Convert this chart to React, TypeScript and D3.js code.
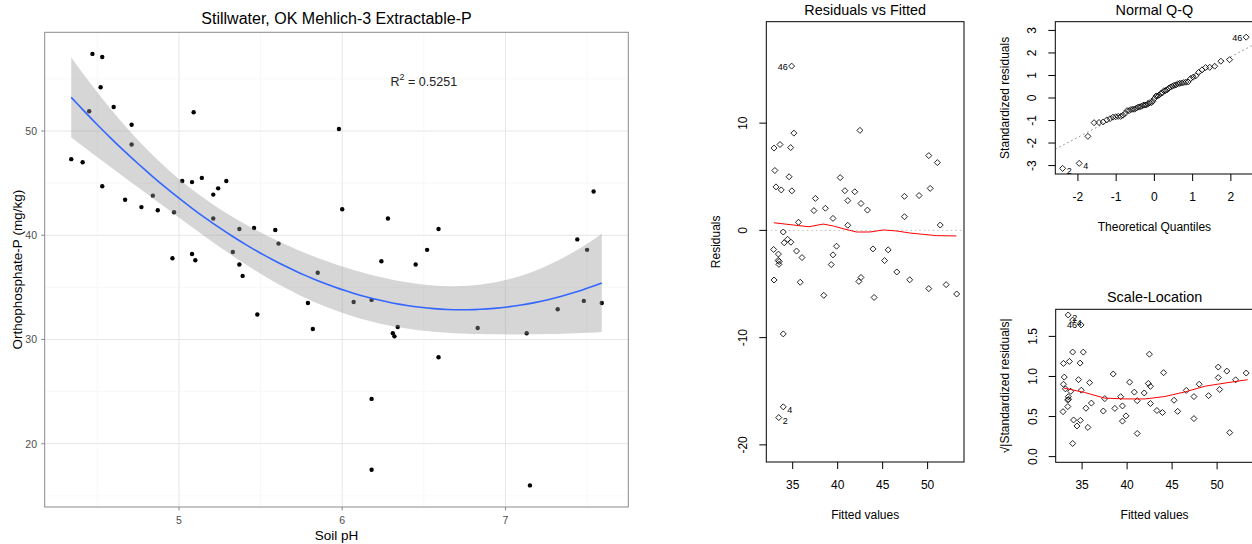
import React from "react";
import * as d3 from "d3";

const soilPH = [4.34, 7.15, 4.41, 6.18, 4.47, 4.53, 4.52, 4.45, 4.53, 4.60, 4.71, 4.71, 4.67, 4.77, 4.84, 4.87, 4.97, 5.02, 5.08, 5.14, 5.09, 5.29, 5.24, 5.21, 5.21, 5.37, 5.46, 5.59, 5.61, 5.33, 5.37, 4.96, 5.08, 5.10, 5.39, 5.48, 5.79, 5.82, 5.85, 6.00, 6.28, 6.59, 6.52, 6.24, 6.45, 5.98, 7.54, 7.44, 7.50, 6.07, 6.18, 6.34, 6.31, 6.32, 6.59, 6.18, 6.83, 7.13, 7.32, 7.48, 7.59];
const orthoP = [47.3, 16.0, 47.0, 17.5, 57.4, 57.1, 54.2, 51.9, 44.7, 52.3, 50.6, 48.7, 43.4, 42.7, 43.8, 42.4, 42.2, 45.2, 45.1, 45.5, 51.8, 45.2, 44.5, 43.9, 41.6, 40.6, 40.7, 40.5, 39.2, 38.4, 37.2, 37.8, 38.2, 37.6, 36.1, 32.4, 33.5, 31.0, 36.4, 42.5, 41.6, 40.6, 38.6, 37.5, 37.2, 50.2, 44.2, 39.6, 38.6, 33.6, 33.8, 31.2, 30.6, 30.3, 28.3, 24.3, 31.1, 30.6, 32.9, 33.7, 33.5];

const mainXTicks = [5, 6, 7];
const mainXMinor = [4.5, 5.5, 6.5, 7.5];
const mainYTicks = [20, 30, 40, 50];
const mainYMinor = [15, 25, 35, 45, 55];
const r2Value = "0.5251";
const r2At = [6.5, 54.7];

const fittedTicks = [35, 40, 45, 50];
const residTicks = [-20, -10, 0, 10];
const qqXTicks = [-2, -1, 0, 1, 2];
const qqYTicks = [-3, -2, -1, 0, 1, 2, 3];
const slYTicks = [0, 0.5, 1, 1.5];
const slYTickLabels = ["0.0", "0.5", "1.0", "1.5"];

// lowess smooths
const rvfSmoothX = [32.9, 35.1, 36.8, 38.4, 39.5, 40.6, 42.1, 43.6, 45.1, 46.6, 48.0, 49.5, 51.0, 53.2];
const rvfSmoothY = [0.71, 0.5, 0.34, 0.59, 0.41, 0.16, -0.15, -0.15, 0.04, -0.06, -0.24, -0.37, -0.49, -0.52];
const slSmoothX = [32.98, 35.3, 37.5, 39.8, 42.0, 44.2, 46.5, 48.7, 51.0, 53.4];
const slSmoothY = [0.855, 0.8, 0.73, 0.72, 0.72, 0.75, 0.81, 0.88, 0.92, 0.96];

const labelLeftIds = [46];
const T_CRIT = 2.0017; // qt(0.975, n - 3)
const FONT = "'Liberation Sans', Arial, Helvetica, sans-serif";

function inv3(m: number[][]) {
  const [[a, b, c], [d, e, f], [g, h, i]] = m;
  const A = e * i - f * h, B = -(d * i - f * g), C = d * h - e * g;
  const D = -(b * i - c * h), E = a * i - c * g, F = -(a * h - b * g);
  const G = b * f - c * e, H = -(a * f - c * d), I = a * e - b * d;
  const det = a * A + b * B + c * C;
  return [
    [A / det, D / det, G / det],
    [B / det, E / det, H / det],
    [C / det, F / det, I / det],
  ];
}

function qnorm(p: number) {
  const a = [-3.969683028665376e1, 2.209460984245205e2, -2.759285104469687e2, 1.38357751867269e2, -3.066479806614716e1, 2.506628277459239];
  const b = [-5.447609879822406e1, 1.615858368580409e2, -1.556989798598866e2, 6.680131188771972e1, -1.328068155288572e1];
  const c = [-7.784894002430293e-3, -3.223964580411365e-1, -2.400758277161838, -2.549732539343734, 4.374664141464968, 2.938163982698783];
  const d = [7.784695709041462e-3, 3.224671290700398e-1, 2.445134137142996, 3.754408661907416];
  const pl = 0.02425;
  if (p < pl) {
    const q = Math.sqrt(-2 * Math.log(p));
    return (((((c[0] * q + c[1]) * q + c[2]) * q + c[3]) * q + c[4]) * q + c[5]) / ((((d[0] * q + d[1]) * q + d[2]) * q + d[3]) * q + 1);
  }
  if (p > 1 - pl) {
    const q = Math.sqrt(-2 * Math.log(1 - p));
    return -(((((c[0] * q + c[1]) * q + c[2]) * q + c[3]) * q + c[4]) * q + c[5]) / ((((d[0] * q + d[1]) * q + d[2]) * q + d[3]) * q + 1);
  }
  const q = p - 0.5, r = q * q;
  return ((((((a[0] * r + a[1]) * r + a[2]) * r + a[3]) * r + a[4]) * r + a[5]) * q) / (((((b[0] * r + b[1]) * r + b[2]) * r + b[3]) * r + b[4]) * r + 1);
}

// ---- quadratic lm fit ----
const n = soilPH.length;
const xBar = d3.mean(soilPH) as number;
const basis = (x: number) => { const c = x - xBar; return [1, c, c * c]; };
const rows = soilPH.map(basis);
const XtX = [0, 1, 2].map((a) => [0, 1, 2].map((b) => d3.sum(rows, (r) => r[a] * r[b])));
const Xty = [0, 1, 2].map((a) => d3.sum(rows, (r, i) => r[a] * orthoP[i]));
const XtXi = inv3(XtX);
const beta = XtXi.map((row) => row[0] * Xty[0] + row[1] * Xty[1] + row[2] * Xty[2]);
const predict = (x: number) => { const v = basis(x); return beta[0] * v[0] + beta[1] * v[1] + beta[2] * v[2]; };
const leverage = (x: number) => {
  const v = basis(x);
  let s = 0;
  for (let a = 0; a < 3; a++) for (let b = 0; b < 3; b++) s += v[a] * XtXi[a][b] * v[b];
  return s;
};
const fitted = soilPH.map(predict);
const resid = orthoP.map((y, i) => y - fitted[i]);
const sigma = Math.sqrt(d3.sum(resid, (r) => r * r) / (n - 3));
const hat = soilPH.map(leverage);
const stdRes = resid.map((r, i) => r / (sigma * Math.sqrt(1 - hat[i])));
const sqrtAbs = stdRes.map((r) => Math.sqrt(Math.abs(r)));
const order = d3.range(n).sort((a, b) => stdRes[a] - stdRes[b]);
const theo: number[] = new Array(n);
order.forEach((idx, k) => { theo[idx] = qnorm((k + 0.5) / n); });
const top3 = (vals: number[]) => d3.range(n).sort((a, b) => Math.abs(vals[b]) - Math.abs(vals[a])).slice(0, 3);

const pad = (lo: number, hi: number, f = 0.04) => [lo - f * (hi - lo), hi + f * (hi - lo)];

// ---- layout ----
const W = 1252, H = 544;
const M = { l: 44.7, r: 628.3, t: 32.3, b: 507 };
const RVF = { l: 766.3, r: 964, t: 21.7, b: 462 };
const QQ = { l: 1055.3, r: 1253.5, t: 21.7, b: 174 };
const SL = { l: 1055.7, r: 1253.5, t: 309.3, b: 462.3 };

const diamond = d3.symbol(d3.symbolSquare, 18)() as string;

type Box = { l: number; r: number; t: number; b: number };

function BasePanel(props: {
  box: Box; x: d3.ScaleLinear<number, number>; y: d3.ScaleLinear<number, number>;
  xTicks: number[]; yTicks: number[]; yTickLabels?: string[];
  title: string; xLabel: string; yLabel: string; children?: React.ReactNode; clipId: string;
}) {
  const { box, x, y, xTicks, yTicks, yTickLabels, title, xLabel, yLabel, children, clipId } = props;
  const cx = (box.l + box.r) / 2, cy = (box.t + box.b) / 2;
  return (
    <g>
      <clipPath id={clipId}><rect x={box.l} y={box.t} width={box.r - box.l} height={box.b - box.t} /></clipPath>
      <g clipPath={`url(#${clipId})`}>{children}</g>
      <rect x={box.l} y={box.t} width={box.r - box.l} height={box.b - box.t} fill="none" stroke="#000" strokeWidth={1} />
      {xTicks.map((t) => (
        <g key={"xt" + t}>
          <line x1={x(t)} x2={x(t)} y1={box.b} y2={box.b + 7} stroke="#000" />
          <text x={x(t)} y={box.b + 23} textAnchor="middle" dominantBaseline="central" fontSize={12}>{t}</text>
        </g>
      ))}
      {yTicks.map((t, i) => (
        <g key={"yt" + t}>
          <line x1={box.l - 7} x2={box.l} y1={y(t)} y2={y(t)} stroke="#000" />
          <text transform={`translate(${box.l - 23},${y(t)}) rotate(-90)`} textAnchor="middle" dominantBaseline="central" fontSize={12}>
            {yTickLabels ? yTickLabels[i] : t}
          </text>
        </g>
      ))}
      <text x={cx} y={box.t - 12} textAnchor="middle" dominantBaseline="central" fontSize={14.4}>{title}</text>
      <text x={cx} y={box.b + 52.5} textAnchor="middle" dominantBaseline="central" fontSize={12}>{xLabel}</text>
      <text transform={`translate(${box.l - 50.5},${cy}) rotate(-90)`} textAnchor="middle" dominantBaseline="central" fontSize={12}>{yLabel}</text>
    </g>
  );
}

function IdLabels(props: { ids: number[]; xs: number[]; ys: number[]; x: d3.ScaleLinear<number, number>; y: d3.ScaleLinear<number, number> }) {
  const { ids, xs, ys, x, y } = props;
  return (
    <g>
      {ids.map((i) => {
        const left = labelLeftIds.includes(i + 1);
        return (
          <text key={"id" + i} x={x(xs[i]) + (left ? -4 : 4)} y={y(ys[i]) + (left ? 0.5 : 3)}
            textAnchor={left ? "end" : "start"} dominantBaseline="central" fontSize={9}>{i + 1}</text>
        );
      })}
    </g>
  );
}

export default function App() {
  // main scatter scales (ggplot 5% expansion)
  const [xlo, xhi] = d3.extent(soilPH) as [number, number];
  const [ylo, yhi] = d3.extent(orthoP) as [number, number];
  const xMain = d3.scaleLinear().domain(pad(xlo, xhi, 0.05)).range([M.l, M.r]);
  const yMain = d3.scaleLinear().domain(pad(ylo, yhi, 0.05)).range([M.b, M.t]);

  const grid = d3.range(80).map((k) => xlo + (k * (xhi - xlo)) / 79);
  const band = grid.map((gx) => {
    const f = predict(gx);
    const se = sigma * Math.sqrt(leverage(gx));
    return { x: gx, f, lo: f - T_CRIT * se, hi: f + T_CRIT * se };
  });
  const area = d3.area<typeof band[0]>().x((d) => xMain(d.x)).y0((d) => yMain(d.lo)).y1((d) => yMain(d.hi));
  const line = d3.line<typeof band[0]>().x((d) => xMain(d.x)).y((d) => yMain(d.f));

  // Residuals vs Fitted
  const [flo, fhi] = d3.extent(fitted) as [number, number];
  const [rlo, rhi] = d3.extent(resid) as [number, number];
  const rext = pad(rlo, rhi, 0.08);
  const xRvf = d3.scaleLinear().domain(pad(flo, fhi)).range([RVF.l, RVF.r]);
  const yRvf = d3.scaleLinear().domain(pad(rext[0], rext[1])).range([RVF.b, RVF.t]);
  const rvfLine = d3.line<number>().x((v) => xRvf(v)).y((_, i) => yRvf(rvfSmoothY[i]));

  // Normal Q-Q
  const [tlo, thi] = d3.extent(theo) as [number, number];
  const [slo, shi] = d3.extent(stdRes) as [number, number];
  const qqHi = shi + 0.075 * (shi - slo);
  const xQQ = d3.scaleLinear().domain(pad(tlo, thi)).range([QQ.l, QQ.r]);
  const yQQ = d3.scaleLinear().domain(pad(slo, qqHi)).range([QQ.b, QQ.t]);
  const q1 = d3.quantile(stdRes, 0.25) as number, q3 = d3.quantile(stdRes, 0.75) as number;
  const z1 = qnorm(0.25), z3 = qnorm(0.75);
  const slope = (q3 - q1) / (z3 - z1), intercept = q1 - slope * z1;
  const [qd0, qd1] = xQQ.domain();

  // Scale-Location
  const xSL = d3.scaleLinear().domain(pad(flo, fhi)).range([SL.l, SL.r]);
  const ySL = d3.scaleLinear().domain(pad(0, d3.max(sqrtAbs) as number)).range([SL.b, SL.t]);
  const slLine = d3.line<number>().x((v) => xSL(v)).y((_, i) => ySL(slSmoothY[i]));

  const rvfIds = top3(resid);
  const stdIds = top3(stdRes);

  return (
    <svg width={W} height={H} style={{ position: "absolute", left: 0, top: 0, display: "block", background: "#fff" }}
      fontFamily={FONT}>
      <rect x={0} y={0} width={W} height={H} fill="#fff" />
      {/* ---- ggplot panel ---- */}
      <g>
        {mainXMinor.map((t) => <line key={"xm" + t} x1={xMain(t)} x2={xMain(t)} y1={M.t} y2={M.b} stroke="#f3f3f3" strokeWidth={0.6} />)}
        {mainYMinor.map((t) => <line key={"ym" + t} x1={M.l} x2={M.r} y1={yMain(t)} y2={yMain(t)} stroke="#f3f3f3" strokeWidth={0.6} />)}
        {mainXTicks.map((t) => <line key={"xg" + t} x1={xMain(t)} x2={xMain(t)} y1={M.t} y2={M.b} stroke="#e6e6e6" strokeWidth={1} />)}
        {mainYTicks.map((t) => <line key={"yg" + t} x1={M.l} x2={M.r} y1={yMain(t)} y2={yMain(t)} stroke="#e6e6e6" strokeWidth={1} />)}
        {soilPH.map((x, i) => <circle key={"p" + i} cx={xMain(x)} cy={yMain(orthoP[i])} r={2.2} fill="#000" />)}
        <path d={area(band) as string} fill="#999999" fillOpacity={0.4} />
        <path d={line(band) as string} fill="none" stroke="#3366FF" strokeWidth={1.6} />
        <rect x={M.l} y={M.t} width={M.r - M.l} height={M.b - M.t} fill="none" stroke="#8a8a8a" strokeWidth={1} />
        {mainXTicks.map((t) => (
          <g key={"xl" + t}>
            <line x1={xMain(t)} x2={xMain(t)} y1={M.b} y2={M.b + 3.5} stroke="#8a8a8a" />
            <text x={xMain(t)} y={519.5} textAnchor="middle" dominantBaseline="central" fontSize={10.5} fill="#4d4d4d">{t}</text>
          </g>
        ))}
        {mainYTicks.map((t) => (
          <g key={"yl" + t}>
            <line x1={M.l - 3.5} x2={M.l} y1={yMain(t)} y2={yMain(t)} stroke="#8a8a8a" />
            <text x={37} y={yMain(t)} textAnchor="end" dominantBaseline="central" fontSize={10.5} fill="#4d4d4d">{t}</text>
          </g>
        ))}
        <text x={xMain(r2At[0])} y={yMain(r2At[1])} textAnchor="middle" dominantBaseline="central" fontSize={12.5} fill="#222">
          R<tspan dy={-5} fontSize={9}>2</tspan><tspan dy={5}>{" = " + r2Value}</tspan>
        </text>
        <text x={(M.l + M.r) / 2} y={18} textAnchor="middle" dominantBaseline="central" fontSize={16}>Stillwater, OK Mehlich-3 Extractable-P</text>
        <text x={(M.l + M.r) / 2} y={535} textAnchor="middle" dominantBaseline="central" fontSize={13.5}>Soil pH</text>
        <text transform={`translate(17.5,${(M.t + M.b) / 2}) rotate(-90)`} textAnchor="middle" dominantBaseline="central" fontSize={13.5}>Orthophosphate-P (mg/kg)</text>
      </g>

      {/* ---- Residuals vs Fitted ---- */}
      <BasePanel box={RVF} x={xRvf} y={yRvf} xTicks={fittedTicks} yTicks={residTicks} title="Residuals vs Fitted"
        xLabel="Fitted values" yLabel="Residuals" clipId="clipRvf">
        <line x1={RVF.l} x2={RVF.r} y1={yRvf(0)} y2={yRvf(0)} stroke="#bebebe" strokeDasharray="1.5,3" />
        {fitted.map((f, i) => <path key={"r" + i} d={diamond} transform={`translate(${xRvf(f)},${yRvf(resid[i])}) rotate(45)`} fill="none" stroke="#000" strokeWidth={0.8} />)}
        <path d={rvfLine(rvfSmoothX) as string} fill="none" stroke="#ff0000" strokeWidth={1} />
      </BasePanel>
      <IdLabels ids={rvfIds} xs={fitted} ys={resid} x={xRvf} y={yRvf} />

      {/* ---- Normal Q-Q ---- */}
      <BasePanel box={QQ} x={xQQ} y={yQQ} xTicks={qqXTicks} yTicks={qqYTicks} title="Normal Q-Q"
        xLabel="Theoretical Quantiles" yLabel="Standardized residuals" clipId="clipQQ">
        <line x1={xQQ(qd0)} x2={xQQ(qd1)} y1={yQQ(intercept + slope * qd0)} y2={yQQ(intercept + slope * qd1)} stroke="#7f7f7f" strokeDasharray="1.5,3" />
        {theo.map((t, i) => <path key={"q" + i} d={diamond} transform={`translate(${xQQ(t)},${yQQ(stdRes[i])}) rotate(45)`} fill="none" stroke="#000" strokeWidth={0.8} />)}
      </BasePanel>
      <IdLabels ids={stdIds} xs={theo} ys={stdRes} x={xQQ} y={yQQ} />

      {/* ---- Scale-Location ---- */}
      <BasePanel box={SL} x={xSL} y={ySL} xTicks={fittedTicks} yTicks={slYTicks} yTickLabels={slYTickLabels} title="Scale-Location"
        xLabel="Fitted values" yLabel="√|Standardized residuals|" clipId="clipSL">
        {fitted.map((f, i) => <path key={"s" + i} d={diamond} transform={`translate(${xSL(f)},${ySL(sqrtAbs[i])}) rotate(45)`} fill="none" stroke="#000" strokeWidth={0.8} />)}
        <path d={slLine(slSmoothX) as string} fill="none" stroke="#ff0000" strokeWidth={1} />
      </BasePanel>
      <IdLabels ids={stdIds} xs={fitted} ys={sqrtAbs} x={xSL} y={ySL} />
    </svg>
  );
}
